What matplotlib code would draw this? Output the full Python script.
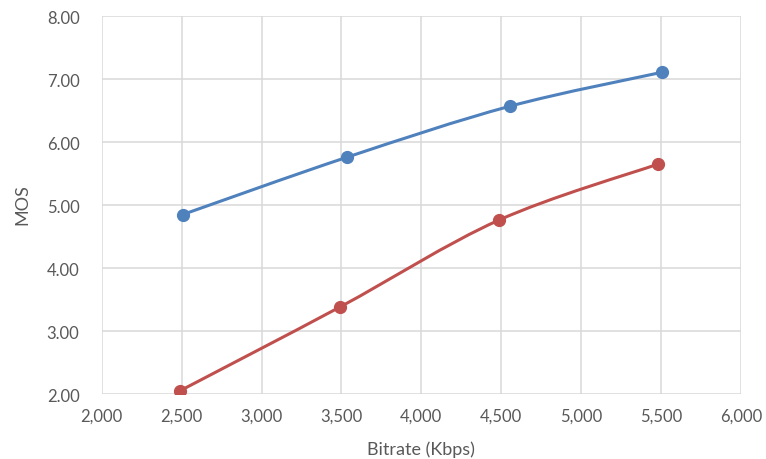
import matplotlib
matplotlib.use("Agg")
import matplotlib.pyplot as plt
from matplotlib.path import Path
from matplotlib.patches import PathPatch
from matplotlib.ticker import FuncFormatter

# bitrate (Kbps) vs MOS for the two encodes
blue_x = [2506, 3533, 4552, 5504]
blue_y = [4.85, 5.76, 6.57, 7.11]
red_x = [2489, 3489, 4483, 5478]
red_y = [2.05, 3.38, 4.76, 5.65]

x_ticks = [2000, 2500, 3000, 3500, 4000, 4500, 5000, 5500, 6000]
y_ticks = [2.0, 3.0, 4.0, 5.0, 6.0, 7.0, 8.0]

plt.rcParams['font.family'] = ['Lato', 'DejaVu Sans']
GREY = '#595959'


def smooth_path(xs, ys):
    # Catmull-Rom style bezier through the points (like Excel's smoothed line)
    pts = list(zip(xs, ys))
    n = len(pts)
    verts = [pts[0]]
    codes = [Path.MOVETO]
    for i in range(n - 1):
        p0 = pts[max(i - 1, 0)]
        p1 = pts[i]
        p2 = pts[i + 1]
        p3 = pts[min(i + 2, n - 1)]
        c1 = (p1[0] + (p2[0] - p0[0]) / 6, p1[1] + (p2[1] - p0[1]) / 6)
        c2 = (p2[0] - (p3[0] - p1[0]) / 6, p2[1] - (p3[1] - p1[1]) / 6)
        verts += [c1, c2, p2]
        codes += [Path.CURVE4] * 3
    return Path(verts, codes)


fig = plt.figure(figsize=(7.66, 4.6), dpi=100)
ax = fig.add_axes([0.1328, 0.1413, 0.8346, 0.8211])

for xs, ys, col in [(blue_x, blue_y, '#4F81BD'), (red_x, red_y, '#C0504D')]:
    ax.add_patch(PathPatch(smooth_path(xs, ys), fill=False, edgecolor=col,
                           lw=2.2, capstyle='round', zorder=3))
    ax.plot(xs, ys, ls='none', marker='o', ms=8.5, color=col, zorder=4)

ax.set_xlim(2000, 6000)
ax.set_ylim(2, 8)
ax.set_xticks(x_ticks)
ax.set_yticks(y_ticks)
ax.xaxis.set_major_formatter(FuncFormatter(lambda v, p: f'{v:,.0f}'))
ax.yaxis.set_major_formatter(FuncFormatter(lambda v, p: f'{v:.2f}'))
ax.grid(True, color='#d9d9d9', lw=1.1, zorder=0)
ax.set_axisbelow(True)
for s in ax.spines.values():
    s.set_visible(False)
ax.tick_params(length=0, labelsize=12, labelcolor=GREY)
ax.tick_params(axis='x', pad=10)
ax.tick_params(axis='y', pad=16)

xl = ax.set_xlabel('Bitrate (Kbps)', fontsize=13, color=GREY)
xl.set_va('center')
ax.xaxis.set_label_coords(0.5, -0.1455)
yl = ax.set_ylabel('MOS', fontsize=13, color=GREY)
yl.set_va('center')
yl.set_rotation_mode('default')
ax.yaxis.set_label_coords(-0.124, 0.505)

fig.savefig('out.png', dpi=100)
